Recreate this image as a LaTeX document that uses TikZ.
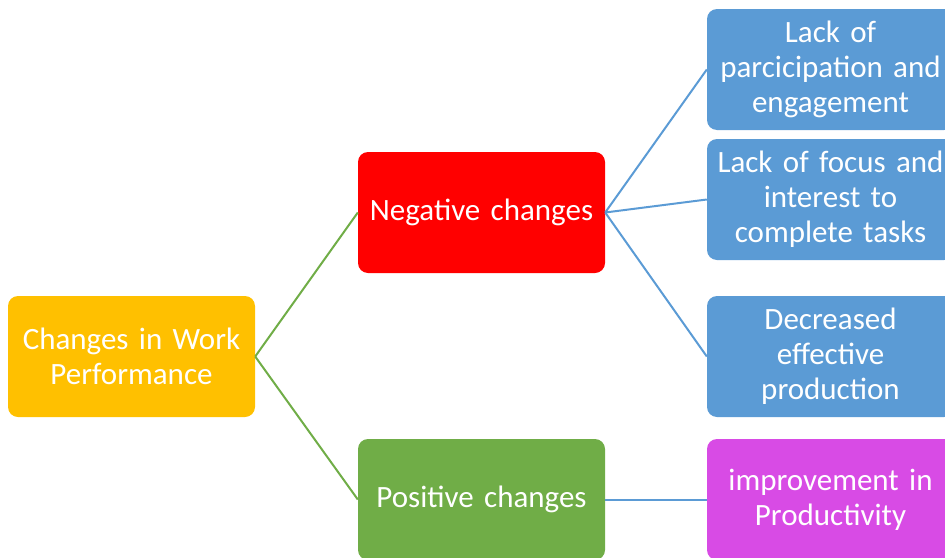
\documentclass[tikz,border=0pt]{standalone}
\usepackage{fontspec}
\setmainfont{Carlito}
\definecolor{cyel}{HTML}{FFC000}
\definecolor{cred}{HTML}{FF0000}
\definecolor{cgrn}{HTML}{70AD47}
\definecolor{cblu}{HTML}{5B9BD5}
\definecolor{cmag}{HTML}{D84BE5}
\begin{document}
\begin{tikzpicture}[x=1pt,y=-1pt,
  box/.style={rounded corners=10pt, minimum width=247pt, minimum height=121pt,
    text width=245pt, align=center, text=white, inner sep=0pt,
    font=\fontsize{31}{35}\selectfont},
  gline/.style={draw=cgrn, line width=2pt},
  bline/.style={draw=cblu, line width=2pt}]
\useasboundingbox (0,0) rectangle (945,557);
\node[box, fill=cyel] (root) at (131.5,356.5) {Changes in Work\\Performance};
\node[box, fill=cred] (neg) at (481.5,212.5) {Negative changes};
\node[box, fill=cgrn] (pos) at (481.5,499.5) {Positive changes};
\node[box, fill=cblu] (b1) at (830.5,69.5) {Lack of\\parcicipation and\\engagement};
\node[box, fill=cblu] (b2) at (830.5,199.5) {Lack of focus and\\interest to\\complete tasks};
\node[box, fill=cblu] (b3) at (830.5,356.5) {Decreased\\effective\\production};
\node[box, fill=cmag] (b4) at (830.5,499.5) {improvement in\\Productivity};
\draw[gline] (root.east) -- (neg.west);
\draw[gline] (root.east) -- (pos.west);
\draw[bline] (neg.east) -- (b1.west);
\draw[bline] (neg.east) -- (b2.west);
\draw[bline] (neg.east) -- (b3.west);
\draw[bline] (pos.east) -- (b4.west);
\end{tikzpicture}
\end{document}
